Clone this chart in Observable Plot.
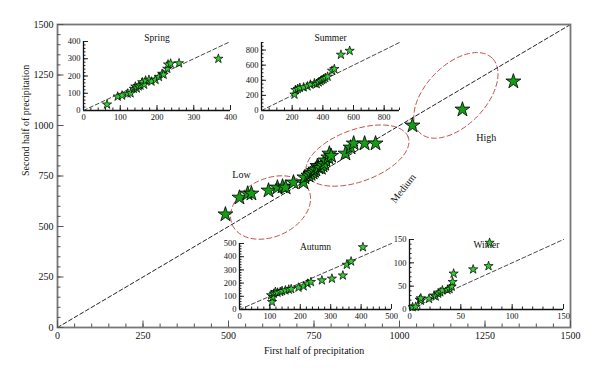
<!DOCTYPE html>
<html><head><meta charset="utf-8">
<script src="https://cdn.jsdelivr.net/npm/d3@7"></script>
<script src="https://cdn.jsdelivr.net/npm/@observablehq/plot@0.6"></script>
<style>
body{margin:0;background:#fff;}
#chart{position:relative;width:600px;height:376px;}
#chart svg{position:absolute;}
</style></head><body><div id="chart"></div>
<script>
// ---- Main (annual) data: first half vs second half of precipitation ----
const mainFirstHalf  = [491,532,556,567,617,643,658,667,690,719,722,734,740,746,750,754,760,763,770,775,780,784,792,795,800,842,857,866,898,930,1038,1184,1333];
const mainSecondHalf = [560,643,663,663,678,693,698,693,718,718,743,752,760,767,775,782,800,792,790,802,810,827,842,861,850,861,891,911,911,911,1000,1079,1218];
const mainTicks = [0,250,500,750,1000,1250,1500];

// ---- Seasonal insets ----
const springFirst  = [64,93,105,120,128,137,141,145,150,155,160,165,169,178,185,196,205,214,218,228,230,237,260,367];
const springSecond = [35,81,87,98,100,126,139,128,140,145,164,150,174,178,168,178,195,213,208,242,267,272,274,300];
const summerFirst  = [215,221,236,250,275,300,319,345,360,373,385,395,405,416,431,460,475,518,575];
const summerSecond = [211,272,286,300,307,320,343,360,350,373,390,404,415,431,448,527,549,738,790];
const autumnFirst  = [107,104,110,113,118,125,134,140,151,162,170,194,211,224,235,271,304,340,353,367,406];
const autumnSecond = [57,108,95,120,133,128,133,140,145,151,155,166,176,196,208,221,234,258,339,364,472];
const winterFirst  = [3,6,10,11,11,19,24,25.5,28,30,32,37,39,41,42,43,62,77,78];
const winterSecond = [5,6,21,19,24,23,30,28,34,37,41,42,44,49,59,77,86,93,143];

// ---- Group annotations (ellipses) ----
const groupNames = ["Low","Medium","High"];
const groupCx = [623, 877, 1165];
const groupCy = [594, 851, 1149];
const groupLabelX = [538, 1011, 1254];
const groupLabelY = [757, 688, 940];
const groupLabelRot = [0, -52, 0];

const FONT = '"Liberation Serif","Times New Roman",serif';
const chart = document.getElementById("chart");

const W = 600, H = 376, ML = 57, MR = 30, MT = 24, MB = 49;
const FW = W - ML - MR, FH = H - MT - MB;
const kx = FW / 1500, ky = FH / 1500;

// ellipse shapes (semi-axes in px, tilt in degrees)
const ellShape = [[42, 29, 25], [54, 26, 20], [52, 30, 46]];
const ellPts = [];
groupNames.forEach((g, i) => {
  const [a, b, deg] = ellShape[i];
  const th = deg * Math.PI / 180;
  d3.range(0, 121).forEach(k => {
    const t = k / 120 * 2 * Math.PI;
    const dx = a * Math.cos(t) * Math.cos(th) - b * Math.sin(t) * Math.sin(th);
    const dy = a * Math.cos(t) * Math.sin(th) + b * Math.sin(t) * Math.cos(th);
    ellPts.push({g, x: groupCx[i] + dx / kx, y: groupCy[i] + dy / ky});
  });
});

const mainRows = mainFirstHalf.map((x, i) => ({x, y: mainSecondHalf[i]}));
const labels = groupNames.map((g, i) => ({g, x: groupLabelX[i], y: groupLabelY[i], r: groupLabelRot[i]}));
const mainMinor = d3.range(0, 1501, 50);

const main = Plot.plot({
  width: W, height: H, marginLeft: ML, marginRight: MR, marginTop: MT, marginBottom: MB,
  style: {background: "transparent", fontFamily: FONT, fontSize: "10px", color: "#111"},
  x: {domain: [0, 1500]},
  y: {domain: [0, 1500]},
  marks: [
    Plot.line(ellPts, {x: "x", y: "y", z: "g", stroke: "#c0504d", strokeWidth: 1, strokeDasharray: "5,3"}),
    Plot.line([[0, 0], [1500, 1500]], {x: d => d[0], y: d => d[1], stroke: "#222", strokeWidth: 1, strokeDasharray: "4,2.5"}),
    Plot.dot(mainRows, {x: "x", y: "y", symbol: "star", r: 4.7, fill: "#149c14", stroke: "#000", strokeWidth: 0.8}),
    Plot.text(labels, {x: "x", y: "y", text: "g", rotate: "r", fontSize: 10, fill: "#111"}),
    Plot.frame({stroke: "#777", strokeWidth: 1.8}),
    Plot.tickX(mainMinor, {x: d => d, insetTop: FH - 3.5, stroke: "#555"}),
    Plot.tickX(mainTicks, {x: d => d, insetTop: FH - 6.5, stroke: "#555"}),
    Plot.tickY(mainMinor, {y: d => d, insetRight: FW - 3.5, stroke: "#555"}),
    Plot.tickY(mainTicks, {y: d => d, insetRight: FW - 6.5, stroke: "#555"}),
    Plot.axisX(mainTicks, {tickSize: 0, tickPadding: 4, tickFormat: "d", label: null, fontSize: 10}),
    Plot.axisY(mainTicks, {tickSize: 0, tickPadding: 4, tickFormat: "d", label: null, fontSize: 10}),
    Plot.text(["First half of precipitation"], {text: d => d, frameAnchor: "bottom", dy: 23, lineAnchor: "middle", fontSize: 10}),
    Plot.text(["Second half of precipitation"], {text: d => d, frameAnchor: "left", dx: -32, rotate: -90, lineAnchor: "middle", fontSize: 10})
  ]
});
main.style.left = "0px"; main.style.top = "0px";
chart.appendChild(main);

function inset({first, second, max, major, minor, title, titleDy, left, top, fw, fh}) {
  const ml = 30, mr = 8, mt = 18, mb = 16;
  const rows = first.map((x, i) => ({x, y: second[i]}));
  const p = Plot.plot({
    width: ml + fw + mr, height: mt + fh + mb,
    marginLeft: ml, marginRight: mr, marginTop: mt, marginBottom: mb,
    style: {background: "transparent", fontFamily: FONT, fontSize: "8.5px", color: "#111", overflow: "visible"},
    x: {domain: [0, max]}, y: {domain: [0, max]},
    marks: [
      Plot.tickX(minor, {x: d => d, insetTop: fh - 2.5, stroke: "#222"}),
      Plot.tickX(major, {x: d => d, insetTop: fh - 5, stroke: "#222"}),
      Plot.tickY(minor, {y: d => d, insetRight: fw - 2.5, stroke: "#222"}),
      Plot.tickY(major, {y: d => d, insetRight: fw - 5, stroke: "#222"}),
      Plot.ruleX([0], {stroke: "#111", strokeWidth: 1.3}),
      Plot.ruleY([0], {stroke: "#111", strokeWidth: 1.3}),
      Plot.axisX(major, {tickSize: 0, tickPadding: 3, tickFormat: "d", label: null, fontSize: 8.5}),
      Plot.axisY(major, {tickSize: 0, tickPadding: 3, tickFormat: "d", label: null, fontSize: 8.5}),
      Plot.line([[0, 0], [max, max]], {x: d => d[0], y: d => d[1], stroke: "#333", strokeWidth: 0.9, strokeDasharray: "4,2.5"}),
      Plot.text([title], {text: d => d, frameAnchor: "top", dy: titleDy, lineAnchor: "middle", fontSize: 9.5}),
      Plot.dot(rows, {x: "x", y: "y", symbol: "star", r: 2.9, fill: "#33cc33", stroke: "#000", strokeWidth: 0.7})
    ]
  });
  p.style.left = (left - ml) + "px";
  p.style.top = (top - mt) + "px";
  chart.appendChild(p);
}

inset({first: springFirst, second: springSecond, max: 400, major: [0,100,200,300,400], minor: d3.range(0, 401, 20),
       title: "Spring", titleDy: -4, left: 83, top: 41, fw: 147, fh: 69});
inset({first: summerFirst, second: summerSecond, max: 900, major: [0,200,400,600,800], minor: d3.range(0, 901, 50),
       title: "Summer", titleDy: -5, left: 261, top: 42, fw: 138, fh: 68});
inset({first: autumnFirst, second: autumnSecond, max: 500, major: [0,100,200,300,400,500], minor: d3.range(0, 501, 20),
       title: "Autumn", titleDy: 3, left: 239, top: 243, fw: 152, fh: 66});
inset({first: winterFirst, second: winterSecond, max: 150, major: [0,50,100,150], minor: d3.range(0, 151, 10),
       title: "Winter", titleDy: 5, left: 409, top: 239, fw: 154, fh: 70});
</script></body></html>
